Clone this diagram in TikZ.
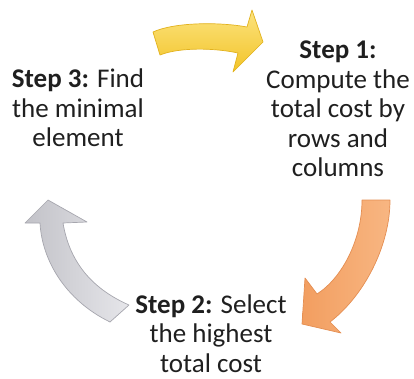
\documentclass[tikz,border=0pt]{standalone}
\usepackage{fontspec}
\setmainfont{Carlito}
\definecolor{ylwL}{HTML}{FCE37E}
\definecolor{ylwD}{HTML}{F2C428}
\definecolor{ylwE}{HTML}{E2B21E}
\definecolor{orgL}{HTML}{F8B682}
\definecolor{orgD}{HTML}{F29E60}
\definecolor{orgE}{HTML}{E48E52}
\definecolor{gryL}{HTML}{E6E6EA}
\definecolor{gryD}{HTML}{C2C2C8}
\definecolor{gryE}{HTML}{A6A6AE}
\tikzset{
  steptext/.style={align=center, inner sep=0pt, anchor=base, font=\fontsize{27}{29.5}\selectfont, text=black!88},
  arrowshape/.style={line width=0.7pt, line join=round},
}
\begin{document}
\begin{tikzpicture}[x=1pt,y=-1pt]
\useasboundingbox (0,0) rectangle (414,379);
% yellow arrow (top)
\path[arrowshape, draw=ylwE, top color=ylwL, bottom color=ylwD]
  (153,32) .. controls (175,22) and (220,22) .. (247,27)
  -- (252,10) -- (263,42) -- (233,72) -- (238,53)
  .. controls (215,48) and (180,47) .. (160,55) -- cycle;
% orange arrow (right)
\path[arrowshape, draw=orgE, left color=orgD, right color=orgL]
  (362,200) -- (390,200)
  .. controls (390,245) and (365,295) .. (330,322)
  -- (341,333) -- (302,324) -- (305,278) -- (317,294)
  .. controls (342,278) and (362,240) .. (362,200) -- cycle;
% gray arrow (left)
\path[arrowshape, draw=gryE, left color=gryD, right color=gryL]
  (48,200) -- (87,222) -- (63,223)
  .. controls (70,265) and (95,290) .. (129,305)
  -- (110,322)
  .. controls (65,300) and (42,260) .. (40,223)
  -- (25,223) -- cycle;
% texts (base anchor = baseline of last line)
\node[steptext] (s1) at (338,177) {\textbf{Step 1:}\\Compute the\\total cost by\\rows and\\columns};
\node[steptext] (s2) at (211,372) {\textbf{Step 2:} Select\\the highest\\total cost};
\node[steptext] (s3) at (78,147) {\textbf{Step 3:} Find\\the minimal\\element};
\end{tikzpicture}
\end{document}
